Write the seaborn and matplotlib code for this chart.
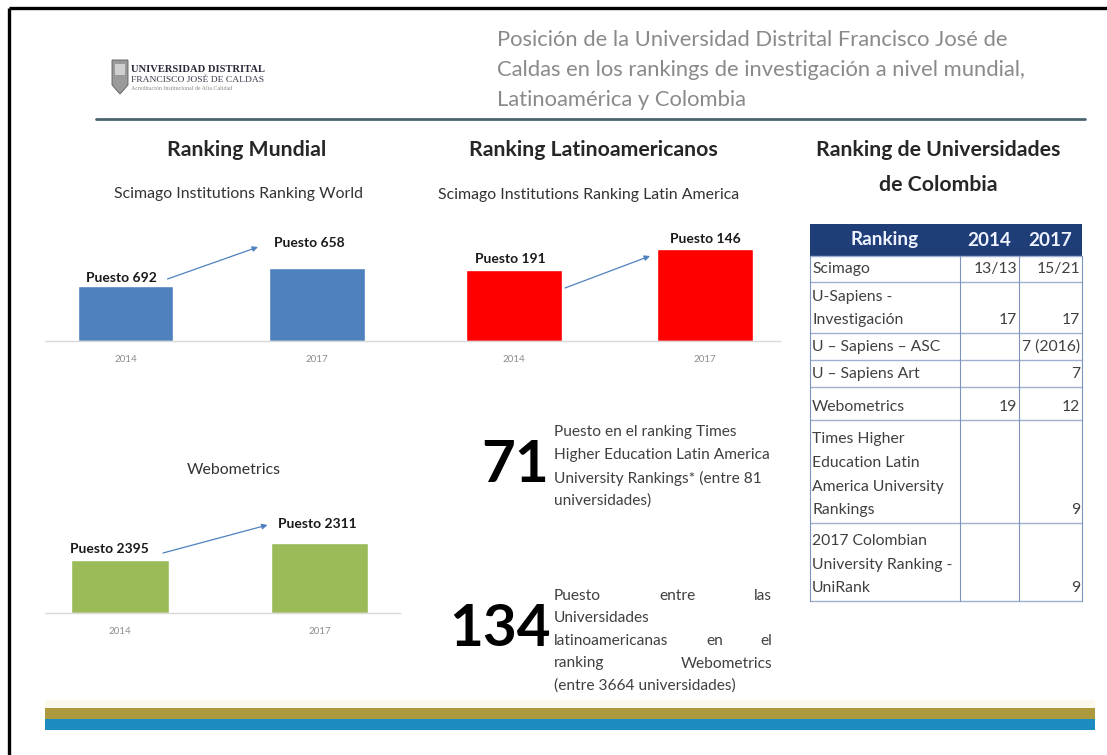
import numpy as np
import pandas as pd
import seaborn as sns
import matplotlib.pyplot as plt
import matplotlib.transforms as mtransforms
from matplotlib.patches import Rectangle, Polygon

# --- datos ---
anios = ['2014', '2017']
mundial_puesto = [692, 658]
latam_puesto = [191, 146]
webo_puesto = [2395, 2311]
mundial_altura = [55, 73]
latam_altura = [71, 92]
webo_altura = [53, 70]

tabla_cols = ['Ranking', '2014', '2017']
tabla_ranking = ['Scimago', 'U-Sapiens -\nInvestigación', 'U – Sapiens – ASC', 'U – Sapiens Art',
                 'Webometrics', 'Times Higher\nEducation Latin\nAmerica University\nRankings',
                 '2017 Colombian\nUniversity Ranking -\nUniRank']
tabla_2014 = ['13/13', '17', '', '', '19', '', '']
tabla_2017 = ['15/21', '17', '7 (2016)', '7', '12', '9', '9']

titulo = ['Posición de la Universidad Distrital Francisco José de',
          'Caldas en los rankings de investigación a nivel mundial,',
          'Latinoamérica y Colombia']
times_num = '71'
times_txt = ['Puesto en el ranking Times', 'Higher Education Latin America',
             'University Rankings* (entre 81', 'universidades)']
webo_num = '134'
webo_txt = ['Puesto entre las', 'Universidades', 'latinoamericanas en el',
            'ranking Webometrics', '(entre 3664 universidades)']

sns.set_style('white')
plt.rcParams['font.family'] = ['Lato', 'DejaVu Sans']

W, H = 1107, 755
fig = plt.figure(figsize=(W / 100, H / 100), dpi=100)
r = fig.canvas.get_renderer()


def caja(x0, y0, x1, y1):
    return [x0 / W, 1 - y1 / H, (x1 - x0) / W, (y1 - y0) / H]


bg = fig.add_axes([0, 0, 1, 1])
bg.set_xlim(0, W)
bg.set_ylim(H, 0)
bg.axis('off')

# marco
bg.plot([9, W], [8, 8], color='black', lw=2.4, solid_capstyle='butt')
bg.plot([9, 9], [8, H], color='black', lw=2.4, solid_capstyle='butt')

# logo
bg.add_patch(Polygon([[112, 60], [128, 60], [128, 85], [120, 94], [112, 85]],
                     closed=True, facecolor='#9a9a9a', edgecolor='#5a5a5a', lw=0.6))
bg.add_patch(Rectangle((115, 64), 10, 11, facecolor='#d0d0d0', edgecolor='none'))
bg.text(131, 70, 'UNIVERSIDAD DISTRITAL', family='Liberation Serif', fontsize=7.6,
        color='#2a2a3a', weight='bold', va='center')
bg.text(131, 80, 'FRANCISCO JOSÉ DE CALDAS', family='Liberation Serif', fontsize=6.8,
        color='#3a3a4a', va='center')
bg.text(131, 89, 'Acreditación Institucional de Alta Calidad', family='Liberation Serif',
        fontsize=4.2, color='#888888', va='center')

# titulo
for i, t in enumerate(titulo):
    bg.text(497, 40 + 30 * i, t, fontsize=15.8, color='#8a8a8a', va='center')
bg.plot([96, 1085], [119, 119], color='#4b6670', lw=2)

# encabezados
enc = dict(fontsize=15.3, weight='bold', color='#262626', ha='center', va='center')
sub = dict(fontsize=11.4, color='#333333', ha='center', va='center')
bg.text(247, 150, 'Ranking Mundial', **enc)
bg.text(239, 194, 'Scimago Institutions Ranking World', **sub)
bg.text(593, 150, 'Ranking Latinoamericanos', **enc)
bg.text(589, 195, 'Scimago Institutions Ranking Latin America', **sub)
bg.text(938, 150, 'Ranking de Universidades', **enc)
bg.text(938, 185, 'de Colombia', **enc)
bg.text(234, 470, 'Webometrics', **sub)


def barras(x0, x1, base, centro0, paso, ancho, alturas, puestos, color, etq, flecha):
    ax = fig.add_axes(caja(x0, base - 110, x1, base))
    df = pd.DataFrame({'anio': anios, 'altura': alturas})
    sns.barplot(data=df, x='anio', y='altura', color=color, width=ancho,
                saturation=1, ax=ax)
    ax.set_xlim(-(centro0 - x0) / paso, (x1 - centro0) / paso)
    ax.set_ylim(0, 110)
    ax.set_xlabel('')
    ax.set_ylabel('')
    ax.set_yticks([])
    ax.patch.set_alpha(0)
    for s in ['top', 'right', 'left']:
        ax.spines[s].set_visible(False)
    ax.spines['bottom'].set_color('#d9d9d9')
    ax.spines['bottom'].set_linewidth(1)
    ax.tick_params(axis='x', length=0, pad=10, labelsize=7, labelcolor='#8c8c8c')
    for i, (h, p) in enumerate(zip(alturas, puestos)):
        ax.annotate(f'Puesto {p}', xy=(i, h), xytext=etq[i], textcoords='offset pixels',
                    ha='center', va='center', fontsize=10, weight='bold',
                    color='#1a1a1a', annotation_clip=False)
    (ax_, ay_), (bx_, by_) = flecha
    ta = mtransforms.offset_copy(ax.transData, x=ax_, y=ay_, units='dots')
    tb = mtransforms.offset_copy(ax.transData, x=bx_, y=by_, units='dots')
    ax.annotate('', xy=(1, alturas[1]), xycoords=tb, xytext=(0, alturas[0]), textcoords=ta,
                arrowprops=dict(arrowstyle='-|>', color='#4f81bd', lw=0.9,
                                mutation_scale=8, shrinkA=0, shrinkB=0),
                annotation_clip=False)
    return ax


barras(45, 400, 341, 125.5, 191.5, 0.5, mundial_altura, mundial_puesto, '#4f81bd',
       [(-4, 8), (-8, 25)], [(42, 7), (-59, 21)])
barras(400, 780, 341, 514, 191, 0.5, latam_altura, latam_puesto, '#fe0000',
       [(-4, 11), (0, 10)], [(51, -18), (-55, -7)])
barras(45, 400, 613, 120, 199.5, 0.49, webo_altura, webo_puesto, '#9bbb59',
       [(-11, 11), (-2, 19)], [(43, 7), (-52, 18)])

# cifras destacadas
num = dict(fontsize=42, weight='bold', color='black', ha='right', va='center')
par = dict(fontsize=11.2, color='#404040', va='center')
bg.text(549, 466, times_num, **num)
for i, t in enumerate(times_txt):
    bg.text(554, 432 + 23 * i, t, **par)
bg.text(551, 630, webo_num, **num)


def linea_justificada(texto, x0, x1, y):
    palabras = texto.split()
    objs = [bg.text(x0, y, w, ha='left', **par) for w in palabras]
    if len(palabras) == 1:
        return
    anchos = [o.get_window_extent(renderer=r).width for o in objs]
    hueco = (x1 - x0 - sum(anchos)) / (len(palabras) - 1)
    x = x0
    for o, a in zip(objs, anchos):
        o.set_x(x)
        x += a + hueco


for i, t in enumerate(webo_txt):
    y = 596 + 22.5 * i
    if i in (1, 4):
        bg.text(554, y, t, **par)
    else:
        linea_justificada(t, 554, 772, y)

# tabla
cx = [810, 960, 1019, 1082]
fy = [224, 256, 282, 333, 360, 387, 420, 523, 601]
bg.add_patch(Rectangle((cx[0], fy[0]), cx[-1] - cx[0], fy[1] - fy[0],
                       facecolor='#1f3e78', edgecolor='none'))
for i, c in enumerate(tabla_cols):
    bg.text((cx[i] + cx[i + 1]) / 2, (fy[0] + fy[1]) / 2, c, fontsize=13.6, weight='bold',
            color='#eef3ff', ha='center', va='center')
for y in fy[1:]:
    bg.plot([cx[0], cx[-1]], [y, y], color='#9fb0cc', lw=1)
for x in cx:
    bg.plot([x, x], [fy[1], fy[-1]], color='#7d93bd', lw=0.8)
celda = dict(fontsize=11.3, color='#404040', va='center')
for k, (nom, v14, v17) in enumerate(zip(tabla_ranking, tabla_2014, tabla_2017)):
    abajo = fy[k + 2] - 13
    lineas = nom.split('\n')
    n = len(lineas)
    for j, ln in enumerate(lineas):
        bg.text(cx[0] + 2, abajo - (n - 1 - j) * 23.5, ln, ha='left', **celda)
    bg.text(cx[2] - 2, abajo, v14, ha='right', **celda)
    bg.text(cx[3] - 2, abajo, v17, ha='right', **celda)

# franjas inferiores
bg.add_patch(Rectangle((45, 700), 1050, 8, facecolor='#fbf8ec', edgecolor='none'))
bg.add_patch(Rectangle((45, 708), 1050, 11, facecolor='#ae9a3e', edgecolor='none'))
bg.add_patch(Rectangle((45, 719), 1050, 11, facecolor='#1b8bc0', edgecolor='none'))

fig.savefig('out.png', dpi=100)
